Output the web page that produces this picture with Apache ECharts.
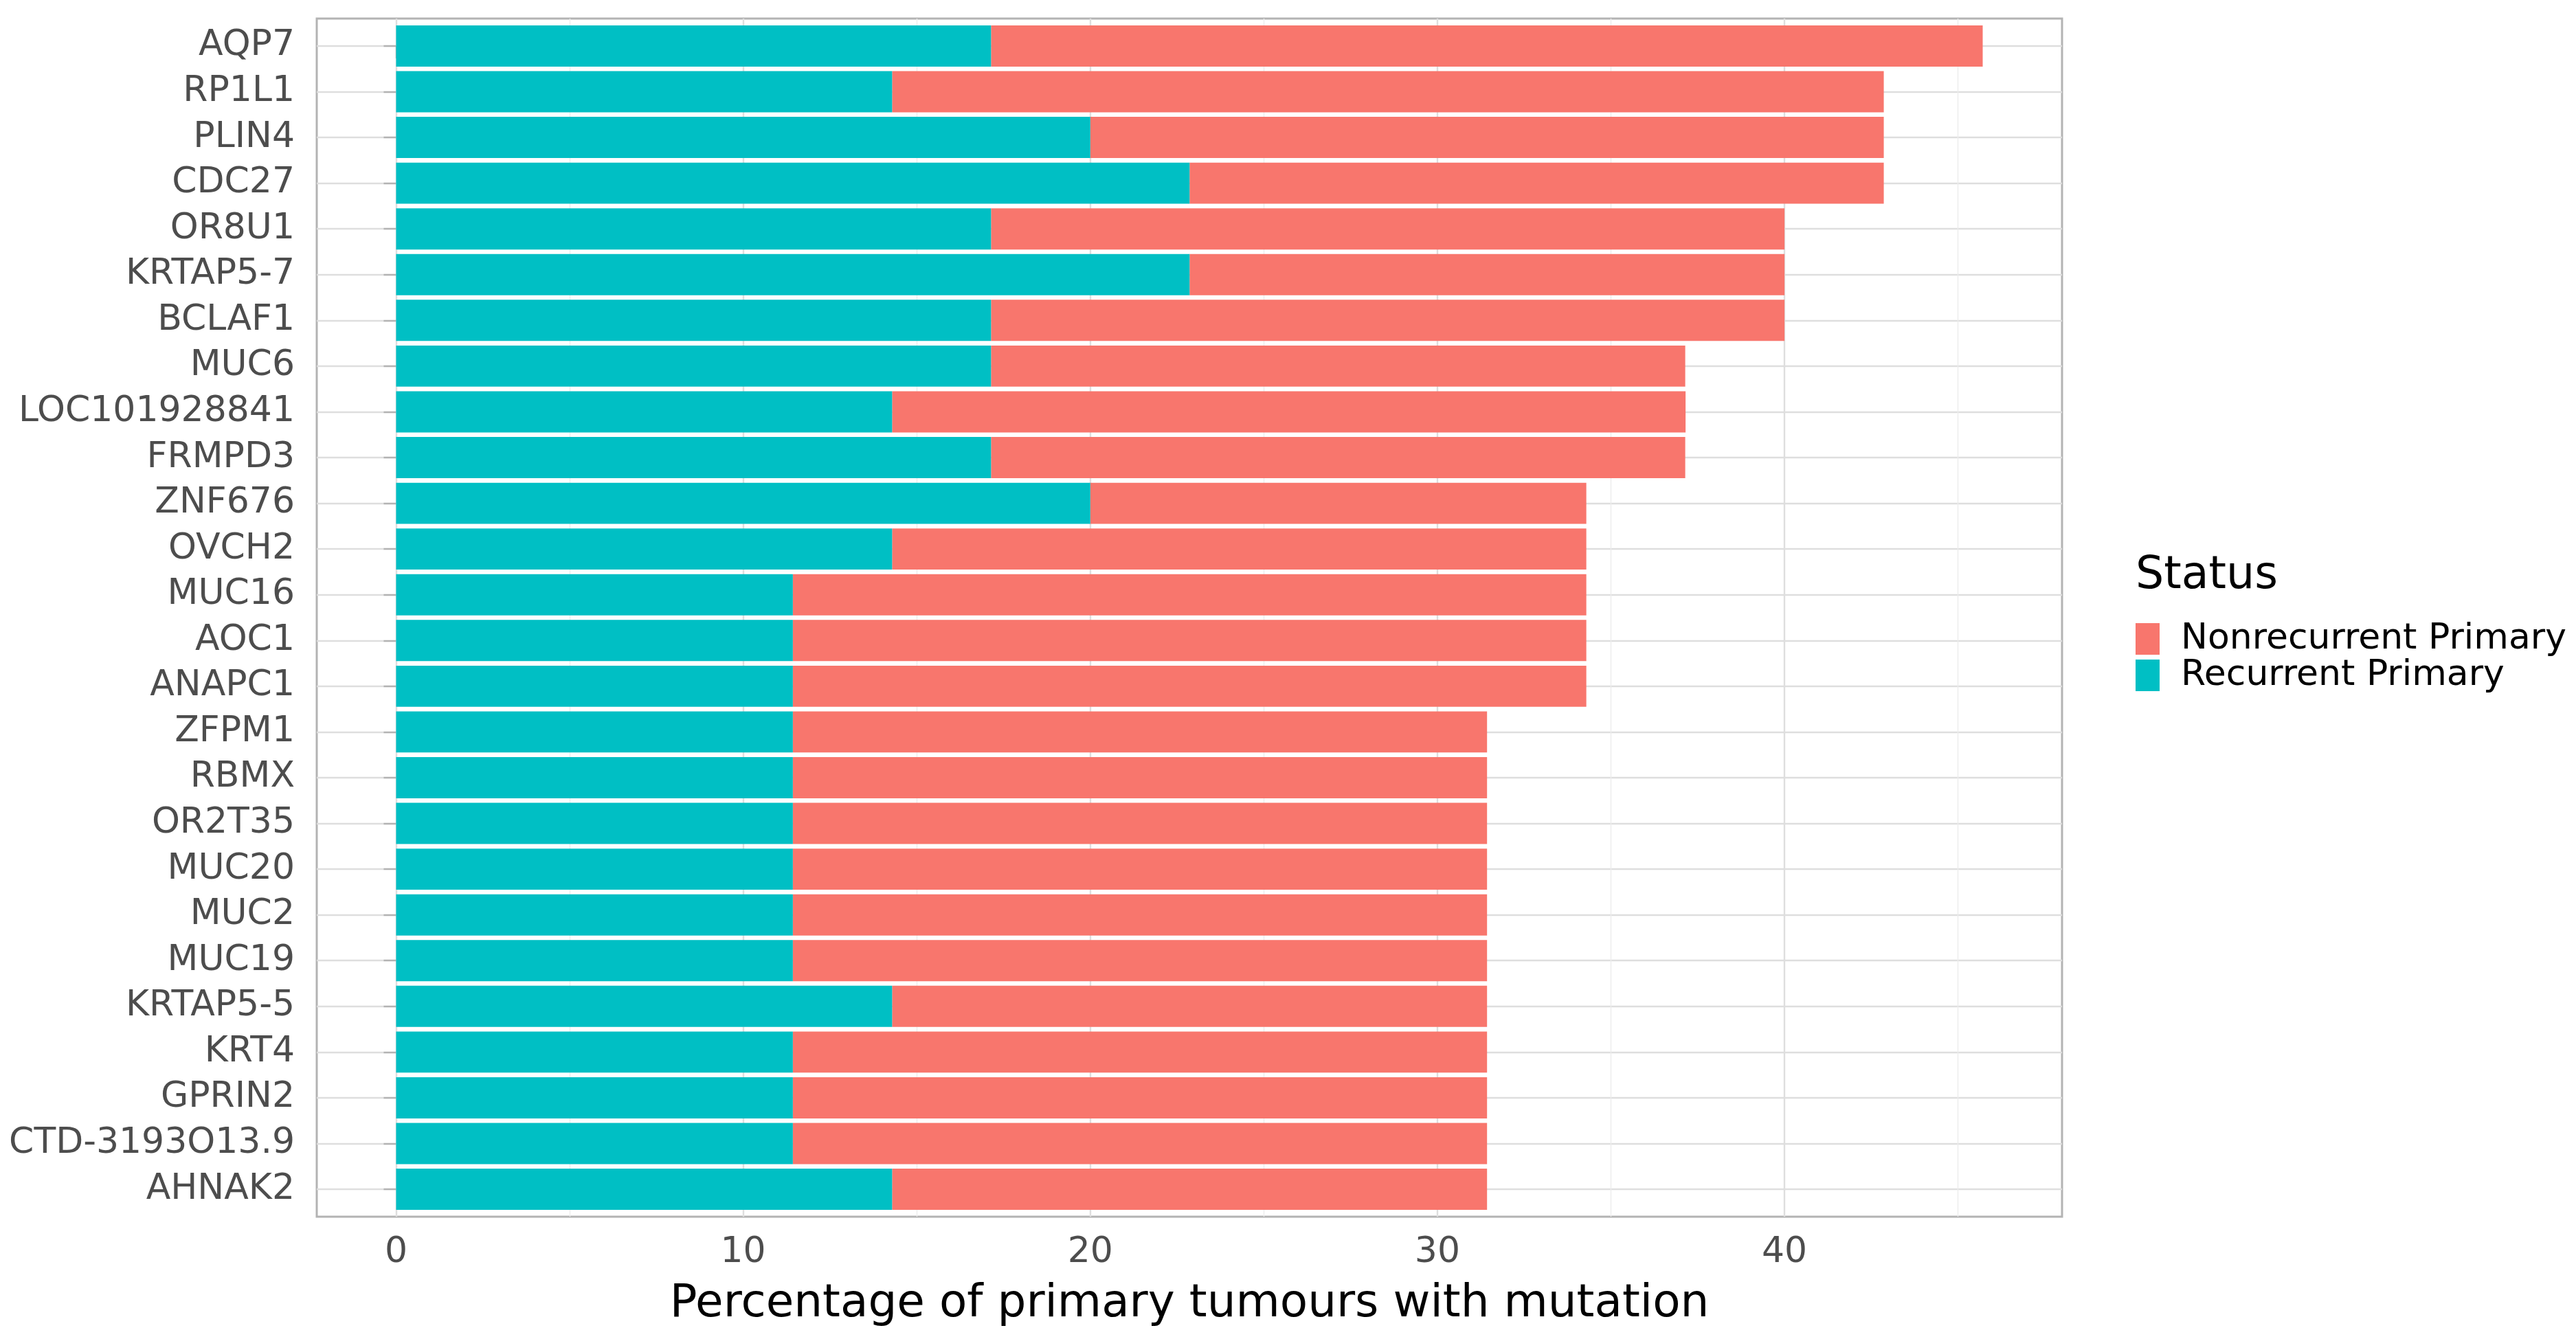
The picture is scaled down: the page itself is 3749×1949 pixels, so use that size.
<!DOCTYPE html>
<html>
<head>
<meta charset="utf-8">
<script src="https://cdn.jsdelivr.net/npm/echarts@6/dist/echarts.min.js"></script>
<style>
html,body{margin:0;padding:0;background:#fff;}
#chart{width:3749px;height:1949px;}
</style>
</head>
<body>
<div id="chart"></div>
<script>
const categories = ["AQP7","RP1L1","PLIN4","CDC27","OR8U1","KRTAP5-7","BCLAF1","MUC6","LOC101928841","FRMPD3","ZNF676","OVCH2","MUC16","AOC1","ANAPC1","ZFPM1","RBMX","OR2T35","MUC20","MUC2","MUC19","KRTAP5-5","KRT4","GPRIN2","CTD-3193O13.9","AHNAK2"];
const recurrent = [17.14,14.29,20.00,22.86,17.14,22.86,17.14,17.14,14.29,17.14,20.00,14.29,11.43,11.43,11.43,11.43,11.43,11.43,11.43,11.43,11.43,14.29,11.43,11.43,11.43,14.29];
const nonrecurrent = [28.57,28.57,22.86,20.00,22.86,17.14,22.86,20.00,22.86,20.00,14.29,20.00,22.86,22.86,22.86,20.00,20.00,20.00,20.00,20.00,20.00,17.14,20.00,20.00,20.00,17.14];
const xMajorTicks = [0,10,20,30,40];
const xMinorTicks = [5,15,25,35,45];
const seriesNames = ["Nonrecurrent Primary","Recurrent Primary"];
const colors = {"Nonrecurrent Primary":"#F8766D","Recurrent Primary":"#00BFC4"};

const idx = categories.map((c,i)=>i);
const recData = idx.map(i => [0, recurrent[i], i]);
const nonData = idx.map(i => [recurrent[i], recurrent[i] + nonrecurrent[i], i]);
const totals = idx.map(i => recurrent[i] + nonrecurrent[i]);
const xMax = Math.max(...totals);
const xPad = xMax * 0.05;

function renderBar(params, api) {
  const s = api.value(0), e = api.value(1), k = api.value(2);
  const p0 = api.coord([s, k]);
  const p1 = api.coord([e, k]);
  const h = api.size([0, 0.9])[1];
  return {
    type: 'rect',
    shape: {x: p0[0], y: p0[1] - h/2, width: p1[0] - p0[0], height: h},
    style: api.style()
  };
}

const font = "DejaVu Sans";
const chart = echarts.init(document.getElementById('chart'), null, {renderer:'canvas'});
chart.setOption({
  backgroundColor: '#ffffff',
  animation: false,
  title: {
    text: 'Status', left: 3103, top: 802,
    textStyle: {fontFamily: font, fontSize: 65, fontWeight: 'normal', color: '#000000'}
  },
  legend: {
    orient: 'vertical', left: 3103, top: 899,
    itemWidth: 35, itemHeight: 46, itemGap: 1,
    icon: 'rect',
    data: seriesNames,
    textStyle: {fontFamily: font, fontSize: 52, color: '#000000', padding: [0,0,0,26]}
  },
  grid: {
    left: 461, top: 27, width: 2540, height: 1744,
    show: true, borderColor: '#b3b3b3', borderWidth: 3, backgroundColor: '#ffffff'
  },
  xAxis: [{
    type: 'value', min: -xPad, max: xMax + xPad,
    name: 'Percentage of primary tumours with mutation',
    nameLocation: 'middle', nameGap: 95,
    nameTextStyle: {fontFamily: font, fontSize: 66, color: '#000000'},
    axisLine: {show: false},
    axisTick: {show: true, length: 18, customValues: xMajorTicks, lineStyle: {color: '#b3b3b3', width: 2.4}},
    axisLabel: {customValues: xMajorTicks, margin: 26, fontFamily: font, fontSize: 52, color: '#4d4d4d'},
    splitLine: {show: true, lineStyle: {color: '#dedede', width: 2.4}}
  }, {
    type: 'value', min: -xPad, max: xMax + xPad, position: 'bottom',
    axisLine: {show: false},
    axisTick: {show: false, customValues: xMinorTicks},
    axisLabel: {show: false, customValues: xMinorTicks},
    splitLine: {show: true, lineStyle: {color: '#ececec', width: 1.3}}
  }],
  yAxis: {
    type: 'value', min: -0.6, max: categories.length - 1 + 0.6, inverse: true,
    axisLine: {show: false},
    axisTick: {show: true, length: 18, customValues: idx, lineStyle: {color: '#b3b3b3', width: 2.4}},
    axisLabel: {customValues: idx, margin: 32, fontFamily: font, fontSize: 52, color: '#4d4d4d',
      formatter: v => categories[Math.round(v)] || ''},
    splitLine: {show: true, lineStyle: {color: '#dedede', width: 2.4}}
  },
  series: [{
    name: 'Nonrecurrent Primary', type: 'custom', xAxisIndex: 0, yAxisIndex: 0,
    renderItem: renderBar, encode: {x: [0,1], y: 2},
    itemStyle: {color: colors['Nonrecurrent Primary']},
    data: nonData
  }, {
    name: 'Recurrent Primary', type: 'custom', xAxisIndex: 0, yAxisIndex: 0,
    renderItem: renderBar, encode: {x: [0,1], y: 2},
    itemStyle: {color: colors['Recurrent Primary']},
    data: recData
  }]
});
</script>
</body>
</html>
